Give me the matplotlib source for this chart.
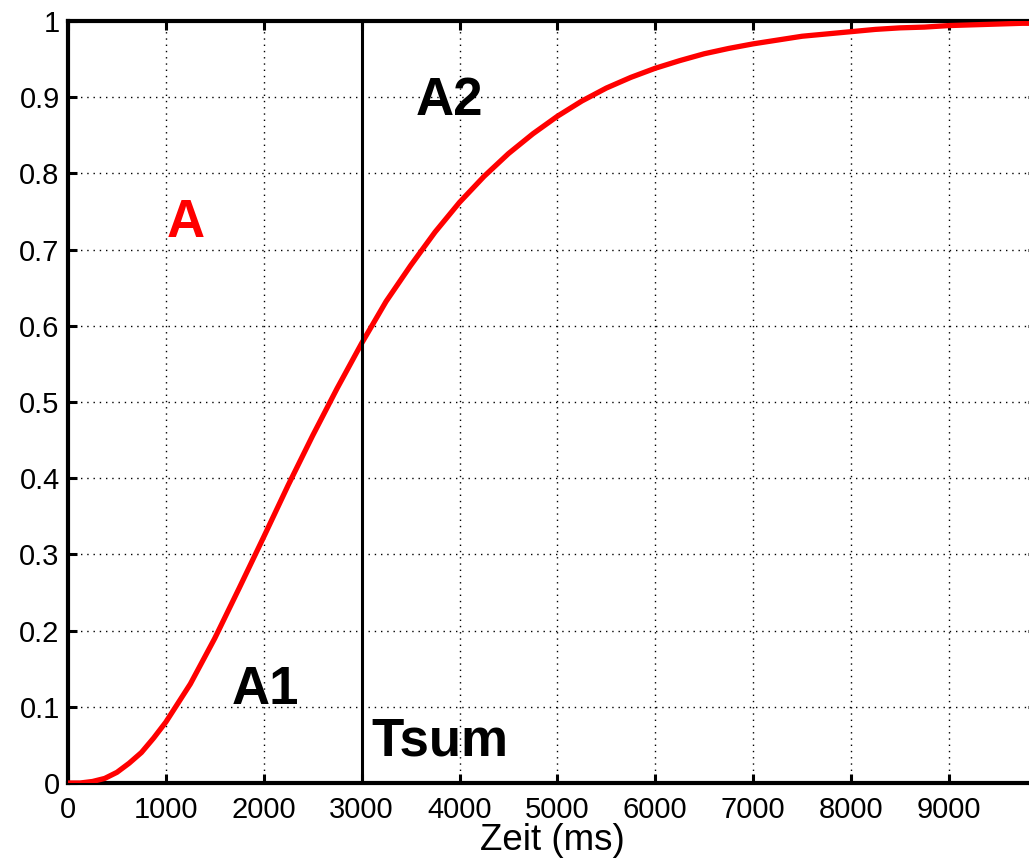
import numpy as np
import matplotlib.pyplot as plt

plt.rcParams['font.family'     ] = ['Liberation Sans', 'DejaVu Sans']
plt.rcParams['font.size'       ] = 21
plt.rcParams['xtick.direction' ] = 'in'
plt.rcParams['ytick.direction' ] = 'in'
plt.rcParams['xtick.top'       ] = True
plt.rcParams['ytick.right'     ] = True
plt.rcParams['xtick.major.size'] = 6.5
plt.rcParams['ytick.major.size'] = 6.5
plt.rcParams['xtick.major.width'] = 2.2
plt.rcParams['ytick.major.width'] = 2.2
plt.rcParams['axes.linewidth'  ] = 3.0

# cumulative response over time
t_ms = [0, 125, 250, 375, 500, 625, 750, 875, 1000, 1125, 1250, 1375, 1500,
        1750, 2000, 2250, 2500, 2750, 3000, 3250, 3500, 3750, 4000, 4250,
        4500, 4750, 5000, 5250, 5500, 5750, 6000, 6250, 6500, 6750, 7000,
        7250, 7500, 7750, 8000, 8250, 8500, 8750, 9000, 9250, 9500, 9750,
        9900]
a_val = [0.000, 0.000, 0.002, 0.006, 0.014, 0.026, 0.040, 0.059, 0.080,
         0.105, 0.130, 0.160, 0.190, 0.256, 0.323, 0.391, 0.456, 0.518,
         0.577, 0.632, 0.679, 0.723, 0.762, 0.796, 0.826, 0.852, 0.875,
         0.895, 0.912, 0.926, 0.938, 0.948, 0.957, 0.964, 0.970, 0.975,
         0.980, 0.983, 0.986, 0.989, 0.991, 0.992, 0.994, 0.995, 0.996,
         0.997, 0.997]
t_sum = 3000

fig = plt.figure(figsize=(10.29, 8.64), dpi=100)
ax = fig.add_axes([68/1029, 81/864, 969/1029, 762/864])

ax.plot([0, 9900], [1, 1], color='green', lw=1.5, zorder=2)
ax.plot(t_ms, a_val, color='red', lw=3.8, solid_joinstyle='round', zorder=3)
ax.axvline(t_sum, color='black', lw=2.2, zorder=4)

ax.text(1200, 0.735, 'A', color='red', fontsize=38, fontweight='bold',
        ha='center', va='center')
ax.text(3900, 0.895, 'A2', fontsize=38, fontweight='bold',
        ha='center', va='center')
ax.text(2020, 0.122, 'A1', fontsize=38, fontweight='bold',
        ha='center', va='center')
ax.text(3100, 0.055, 'Tsum', fontsize=38, fontweight='bold',
        ha='left', va='center')

ax.set_xlim(0, 9900)
ax.set_ylim(0, 1)
ax.set_xticks(np.arange(0, 10000, 1000))
ax.set_yticks(np.arange(0, 1.01, 0.1))
ax.set_yticklabels(['0', '0.1', '0.2', '0.3', '0.4', '0.5', '0.6', '0.7',
                    '0.8', '0.9', '1'])
ax.tick_params(axis='x', pad=9)
ax.tick_params(axis='y', pad=6)
ax.grid(True, color='black', lw=1.0, linestyle=(0, (1, 3.5)))
ax.set_xlabel('Zeit (ms)', fontsize=26.5, labelpad=0)

plt.savefig('out.png', dpi=100)
